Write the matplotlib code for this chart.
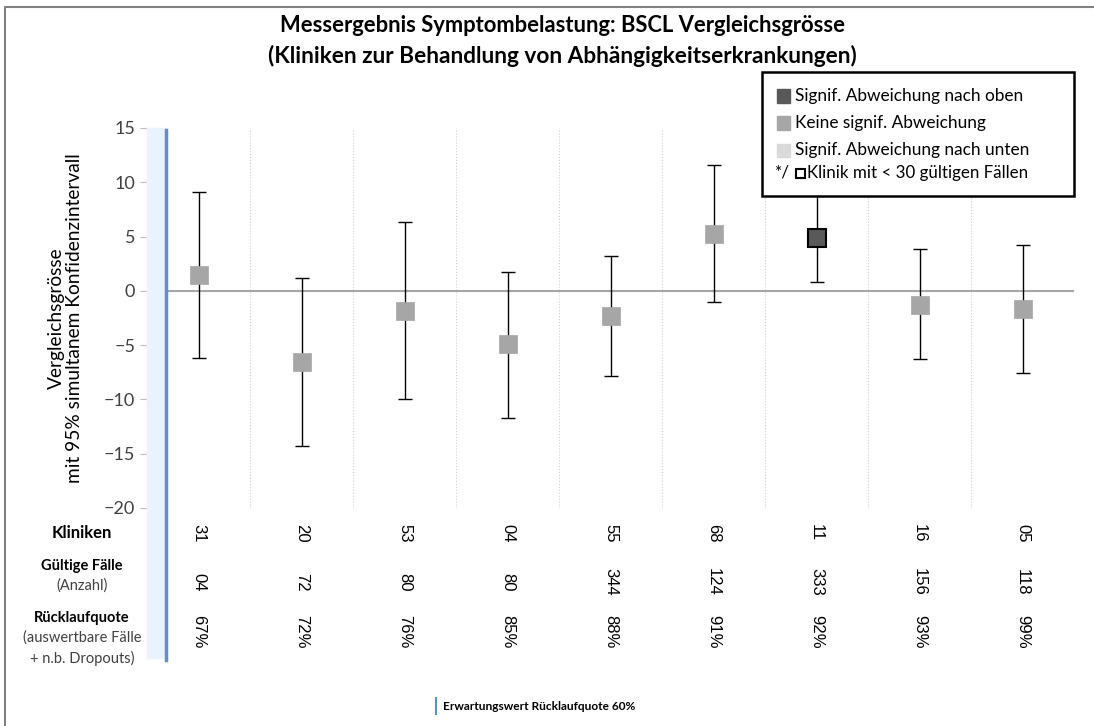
import matplotlib.pyplot as plt
from matplotlib.patches import Rectangle
from matplotlib.lines import Line2D
from matplotlib.transforms import blended_transform_factory

# Daten
kliniken = ["31", "20", "53", "04", "55", "68", "11", "16", "05"]
faelle = ["04", "72", "80", "80", "344", "124", "333", "156", "118"]
quote = ["67%", "72%", "76%", "85%", "88%", "91%", "92%", "93%", "99%"]
wert = [1.47, -6.57, -1.81, -4.91, -2.36, 5.22, 4.88, -1.26, -1.66]
ki_oben = [9.09, 1.23, 6.33, 1.75, 3.22, 11.57, 8.90, 3.87, 4.24]
ki_unten = [-6.14, -14.27, -9.94, -11.70, -7.86, -1.07, 0.86, -6.29, -7.58]
abweichung = ["keine", "keine", "keine", "keine", "keine", "keine", "oben", "keine", "keine"]

farben = {"oben": "#595959", "keine": "#A6A6A6", "unten": "#D9D9D9"}
legende = [("oben", "Signif. Abweichung nach oben"),
           ("keine", "Keine signif. Abweichung"),
           ("unten", "Signif. Abweichung nach unten")]

W, H = 1094, 726
plt.rcParams['font.family'] = ['Lato', 'DejaVu Sans']

def fx(px):
    return px / W

def fy(py):
    return 1 - py / H

fig = plt.figure(figsize=(W / 100, H / 100), dpi=100)
ax = fig.add_axes([fx(147), fy(508), fx(1074) - fx(147), fy(128) - fy(508)])

n = len(kliniken)
xs = list(range(n))
ax.set_xlim(-0.5, n - 0.5)
ax.set_ylim(-20, 15)
ax.set_yticks(range(-20, 16, 5))
ax.set_xticks([])
ax.tick_params(axis='y', labelsize=13, length=5, color='#BFBFBF', labelcolor='#404040')
for s in ["top", "right", "bottom"]:
    ax.spines[s].set_visible(False)
ax.spines["left"].set_color("#D9D9D9")

# Trennlinien zwischen Kliniken
for i in range(1, n + 1):
    ax.axvline(i - 0.5, color="#D0D0D0", lw=0.8, ls=":", zorder=0)
ax.axhline(0, color="#A6A6A6", lw=1.5, zorder=1)

for i in xs:
    ax.errorbar(i, wert[i], yerr=[[wert[i] - ki_unten[i]], [ki_oben[i] - wert[i]]],
                fmt='none', ecolor='black', elinewidth=1, capsize=5, capthick=1, zorder=2)
    edge = "black" if abweichung[i] == "oben" else farben[abweichung[i]]
    ax.plot(i, wert[i], marker='s', ms=12.5, color=farben[abweichung[i]],
            mec=edge, mew=1.5 if abweichung[i] == "oben" else 0.5, zorder=3)

ax.set_ylabel("Vergleichsgrösse\nmit 95% simultanem Konfidenzintervall",
              fontsize=13.8, linespacing=1.1)
ax.yaxis.set_label_coords((83 - 147) / 927, 0.5)

# hellblaues Band und blaue Linie (Erwartungswert Rücklaufquote)
fig.patches.append(Rectangle((fx(147), fy(658)), fx(166) - fx(147), fy(128) - fy(658),
                             transform=fig.transFigure, color="#EAF2FB", zorder=0))
fig.lines.append(Line2D([fx(166), fx(166)], [fy(130), fy(660)], transform=fig.transFigure,
                        color="#5B8DD9", lw=2.5))

# Rahmen
fig.lines.append(Line2D([fx(5), fx(5), fx(1094)], [fy(726), fy(7), fy(7)],
                        transform=fig.transFigure, color="#808080", lw=1.5))

# Titel
fig.text(fx(562), fy(26), "Messergebnis Symptombelastung: BSCL Vergleichsgrösse",
         ha='center', va='center', fontsize=15.8, fontweight='bold')
fig.text(fx(562), fy(56), "(Kliniken zur Behandlung von Abhängigkeitserkrankungen)",
         ha='center', va='center', fontsize=16.3, fontweight='bold')

# Tabelle unter der Achse
trans = blended_transform_factory(ax.transData, fig.transFigure)
for i in xs:
    for txt, py in [(kliniken[i], 533), (faelle[i], 582), (quote[i], 632)]:
        fig.text(i, fy(py), txt, transform=trans, ha='center', va='center',
                 rotation=-90, fontsize=12, family='Liberation Sans')

fig.text(fx(82), fy(533), "Kliniken", ha='center', va='center', fontsize=12, fontweight='bold')
fig.text(fx(82), fy(566), "Gültige Fälle", ha='center', va='center', fontsize=10.5, fontweight='bold')
fig.text(fx(82), fy(586), "(Anzahl)", ha='center', va='center', fontsize=10.5, color='#404040')
fig.text(fx(82), fy(618), "Rücklaufquote", ha='center', va='center', fontsize=10.5, fontweight='bold')
fig.text(fx(82), fy(638), "(auswertbare Fälle", ha='center', va='center', fontsize=10.5, color='#404040')
fig.text(fx(82), fy(658), "+ n.b. Dropouts)", ha='center', va='center', fontsize=10.5, color='#404040')

# Fusszeile
fig.lines.append(Line2D([fx(436), fx(436)], [fy(698), fy(714)], transform=fig.transFigure,
                        color="#5B8DD9", lw=1.5))
fig.text(fx(443), fy(706), "Erwartungswert Rücklaufquote 60%", ha='left', va='center',
         fontsize=8.6, fontweight='bold')

# Legende
fig.patches.append(Rectangle((fx(762), fy(196)), fx(1074) - fx(762), fy(72) - fy(196),
                             transform=fig.transFigure, facecolor='white', edgecolor='black',
                             lw=1.8, zorder=5))
for k, (key, label) in enumerate(legende):
    py = 96 + k * 27
    fig.patches.append(Rectangle((fx(777), fy(py + 6.5)), fx(13), fy(0) - fy(13),
                                 transform=fig.transFigure, color=farben[key], zorder=6))
    fig.text(fx(795), fy(py), label, ha='left', va='center', fontsize=12.4, zorder=7)
fig.text(fx(775), fy(173), "*/", ha='left', va='center', fontsize=12.4, zorder=7)
fig.patches.append(Rectangle((fx(796), fy(178)), fx(9), fy(0) - fy(9), transform=fig.transFigure,
                             facecolor='white', edgecolor='black', lw=1.5, zorder=6))
fig.text(fx(807), fy(173), "Klinik mit < 30 gültigen Fällen", ha='left', va='center',
         fontsize=12.2, zorder=7)

fig.savefig("out.png", dpi=100)
